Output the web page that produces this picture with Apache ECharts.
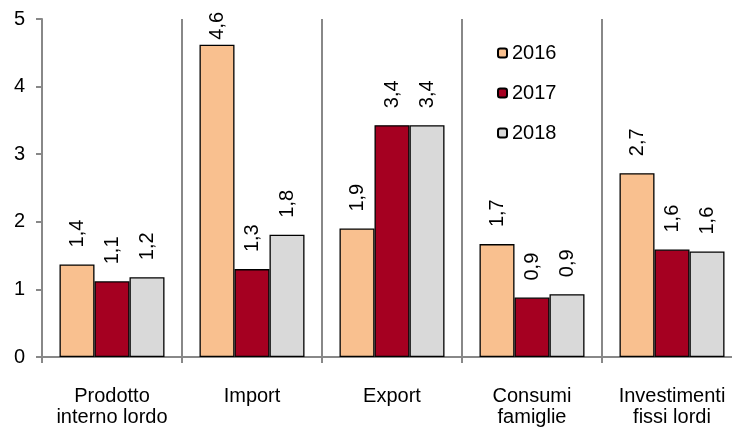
<!DOCTYPE html>
<html>
<head>
<meta charset="utf-8">
<script src="https://cdn.jsdelivr.net/npm/echarts@6/dist/echarts.min.js"></script>
<style>html,body{margin:0;padding:0;background:#fff}#c{width:732px;height:432px}</style>
</head>
<body>
<div id="c"></div>
<script>
var categories = ['Prodotto\ninterno lordo', 'Import', 'Export', 'Consumi\nfamiglie', 'Investimenti\nfissi lordi'];
var seriesNames = ['2016', '2017', '2018'];
var values2016 = [1.37, 4.62, 1.90, 1.67, 2.72];
var values2017 = [1.12, 1.30, 3.43, 0.88, 1.59];
var values2018 = [1.18, 1.81, 3.43, 0.93, 1.56];
var yTicks = [0, 1, 2, 3, 4, 5];

var colors = ['#F9C08F', '#A50021', '#D9D9D9'];
var dataSets = [values2016, values2017, values2018];
var FONT = 'Liberation Sans, Arial, sans-serif';
var axisGray = '#888888';
var yMax = yTicks[yTicks.length - 1];

var chart = echarts.init(document.getElementById('c'), null, {renderer: 'canvas'});
var series = seriesNames.map(function (name, i) {
  return {
    name: name,
    type: 'bar',
    // labels near the plot top are kept inside the plot area (as in the original)
    data: dataSets[i].map(function (v) {
      return v > yMax - 0.6 ? {value: v, label: {distance: 5}} : v;
    }),
    barWidth: 35,
    barGap: '0%',
    itemStyle: {color: colors[i], borderColor: '#000', borderWidth: 1.3},
    label: {
      show: true,
      position: 'top',
      rotate: 90,
      align: 'left',
      verticalAlign: 'middle',
      distance: 17,
      fontFamily: FONT,
      fontSize: 20,
      color: '#000',
      formatter: function (p) { return p.value.toFixed(1).replace('.', ','); }
    }
  };
});

chart.setOption({
  animation: false,
  backgroundColor: '#fff',
  grid: {left: 42, top: 19, right: -10, bottom: 75, containLabel: false, outerBoundsMode: 'none'},
  legend: {
    orient: 'vertical',
    left: 497,
    top: 42,
    padding: 0,
    itemWidth: 9,
    itemHeight: 9,
    itemGap: 18,
    data: seriesNames,
    textStyle: {fontFamily: FONT, fontSize: 20, color: '#000', lineHeight: 22}
  },
  xAxis: {
    type: 'category',
    data: categories,
    boundaryGap: true,
    axisLine: {show: true, lineStyle: {color: axisGray, width: 2}},
    axisTick: {show: true, interval: 0, length: 6, lineStyle: {color: axisGray, width: 2}},
    splitLine: {show: true, interval: 0, lineStyle: {color: axisGray, width: 2}},
    axisLabel: {interval: 0, margin: 29, fontFamily: FONT, fontSize: 20, color: '#000', lineHeight: 21}
  },
  yAxis: {
    type: 'value',
    min: yTicks[0],
    max: yMax,
    interval: 1,
    splitLine: {show: false},
    axisLine: {show: true, lineStyle: {color: axisGray, width: 2}},
    axisTick: {show: true, length: 6, lineStyle: {color: axisGray, width: 2}},
    axisLabel: {margin: 17, fontFamily: FONT, fontSize: 20, color: '#000'}
  },
  series: series
});
</script>
</body>
</html>
